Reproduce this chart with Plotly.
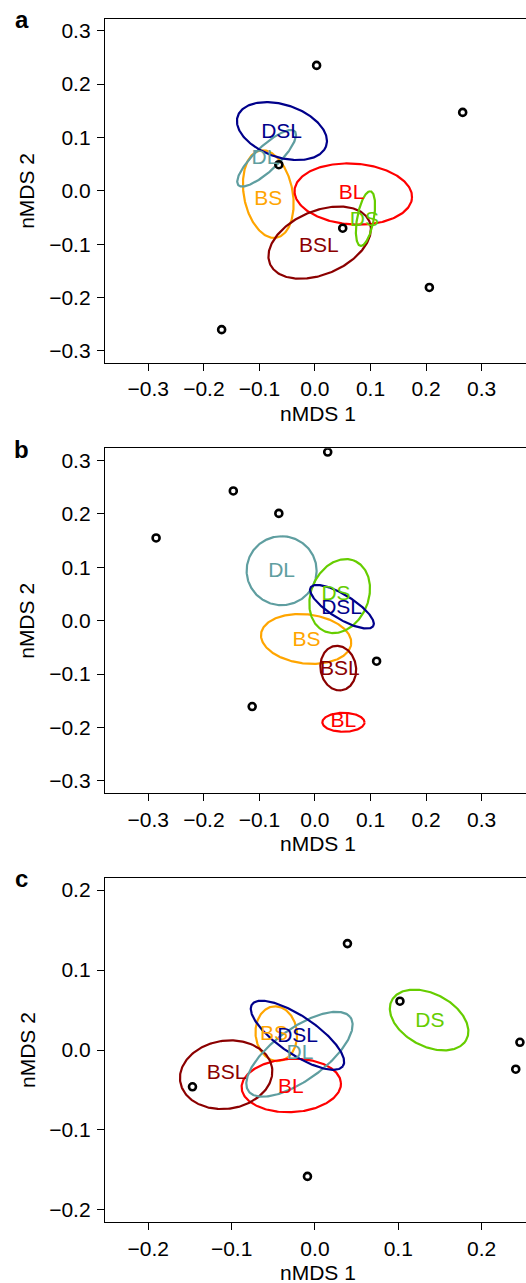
import numpy as np
import plotly.graph_objects as go

W, H = 526, 1283
FONT = "Liberation Sans, Arial, Helvetica, sans-serif"

groups = ["BS", "BL", "BSL", "DL", "DS", "DSL"]
colors = {"BS": "#FFA500", "BL": "#FF0000", "BSL": "#8B0000",
          "DL": "#5F9EA0", "DS": "#66CD00", "DSL": "#00008B"}

# ---- panel a ----
a_pts_x = [0.003, 0.266, -0.065, 0.050, 0.206, -0.168]
a_pts_y = [0.235, 0.147, 0.049, -0.070, -0.181, -0.260]
a_ell_cx = [-0.084, 0.069, 0.0085, -0.087, 0.091, -0.0594]
a_ell_cy = [-0.006, -0.006, -0.097, 0.061, -0.052, 0.112]
a_ell_a = [0.083, 0.106, 0.098, 0.0716, 0.052, 0.0844]
a_ell_b = [0.044, 0.057, 0.059, 0.022, 0.015, 0.049]
a_ell_ang = [-80, -4, 25, 45, 80, -20]
a_lab_x = [-0.084, 0.066, 0.007, -0.090, 0.089, -0.060]
a_lab_y = [-0.017, -0.006, -0.104, 0.061, -0.056, 0.108]

# ---- panel b ----
b_pts_x = [0.023, -0.147, -0.065, -0.286, 0.111, -0.113]
b_pts_y = [0.316, 0.243, 0.201, 0.155, -0.076, -0.161]
b_ell_cx = [-0.0159, 0.0513, 0.042, -0.060, 0.0445, 0.0486]
b_ell_cy = [-0.0343, -0.1905, -0.089, 0.0936, 0.046, 0.026]
b_ell_a = [0.0817, 0.038, 0.042, 0.0646, 0.0714, 0.067]
b_ell_b = [0.046, 0.0178, 0.032, 0.063, 0.052, 0.022]
b_ell_ang = [-7, 0, -82, 90, 70, -33]
b_lab_x = [-0.015, 0.051, 0.045, -0.060, 0.038, 0.048]
b_lab_y = [-0.038, -0.189, -0.0925, 0.091, 0.048, 0.022]

# ---- panel c ----
c_pts_x = [0.039, 0.102, 0.246, 0.241, -0.147, -0.009]
c_pts_y = [0.133, 0.061, 0.0096, -0.024, -0.046, -0.158]
c_ell_cx = [-0.0464, -0.0284, -0.1066, -0.0186, 0.137, -0.021]
c_ell_cy = [0.0204, -0.0444, -0.0309, -0.0053, 0.0375, 0.0184]
c_ell_a = [0.0343, 0.0597, 0.0558, 0.0766, 0.0511, 0.0668]
c_ell_b = [0.0249, 0.0333, 0.0425, 0.0319, 0.0325, 0.0233]
c_ell_ang = [-85, 3, 10, 37.5, -30, -35.5]
c_lab_x = [-0.0492, -0.0288, -0.106, -0.018, 0.138, -0.0208]
c_lab_y = [0.0188, -0.047, -0.030, -0.0042, 0.0354, 0.0166]

x_ticks_ab = [-0.3, -0.2, -0.1, 0.0, 0.1, 0.2, 0.3]
y_ticks_ab = [-0.3, -0.2, -0.1, 0.0, 0.1, 0.2, 0.3]
x_ticks_c = [-0.2, -0.1, 0.0, 0.1, 0.2]
y_ticks_c = [-0.2, -0.1, 0.0, 0.1, 0.2]

panels = [
    dict(name="a", px=a_pts_x, py=a_pts_y, cx=a_ell_cx, cy=a_ell_cy, ea=a_ell_a,
         eb=a_ell_b, ang=a_ell_ang, lx=a_lab_x, ly=a_lab_y,
         xr=[-0.378, 0.38], yr=[-0.3225, 0.3225], xt=x_ticks_ab, yt=y_ticks_ab,
         top=18.7, bot=363.0),
    dict(name="b", px=b_pts_x, py=b_pts_y, cx=b_ell_cx, cy=b_ell_cy, ea=b_ell_a,
         eb=b_ell_b, ang=b_ell_ang, lx=b_lab_x, ly=b_lab_y,
         xr=[-0.378, 0.38], yr=[-0.3236, 0.323], xt=x_ticks_ab, yt=y_ticks_ab,
         top=448.3, bot=793.3),
    dict(name="c", px=c_pts_x, py=c_pts_y, cx=c_ell_cx, cy=c_ell_cy, ea=c_ell_a,
         eb=c_ell_b, ang=c_ell_ang, lx=c_lab_x, ly=c_lab_y,
         xr=[-0.252, 0.2533], yr=[-0.2154, 0.2154], xt=x_ticks_c, yt=y_ticks_c,
         top=877.7, bot=1222.3),
]

fig = go.Figure()
t = np.linspace(0, 2 * np.pi, 241)
left_px = 105
annotations = []
layout_axes = {}
FS = 21

for i, p in enumerate(panels):
    n = "" if i == 0 else str(i + 1)
    xa, ya = "x" + n, "y" + n
    for k, g in enumerate(groups):
        th = np.deg2rad(p["ang"][k])
        ex = p["cx"][k] + p["ea"][k] * np.cos(t) * np.cos(th) - p["eb"][k] * np.sin(t) * np.sin(th)
        ey = p["cy"][k] + p["ea"][k] * np.cos(t) * np.sin(th) + p["eb"][k] * np.sin(t) * np.cos(th)
        fig.add_trace(go.Scatter(x=ex, y=ey, mode="lines", xaxis=xa, yaxis=ya,
                                 line=dict(color=colors[g], width=2.2),
                                 hoverinfo="skip", showlegend=False))
    fig.add_trace(go.Scatter(x=p["px"], y=p["py"], mode="markers", xaxis=xa, yaxis=ya,
                             marker=dict(symbol="circle-open", size=7, color="black",
                                         line=dict(width=2.6, color="black")),
                             showlegend=False))
    for k, g in enumerate(groups):
        fig.add_trace(go.Scatter(x=[p["lx"][k]], y=[p["ly"][k]], mode="text", text=[g],
                                 xaxis=xa, yaxis=ya, textposition="middle center",
                                 textfont=dict(size=FS, color=colors[g], family=FONT),
                                 hoverinfo="skip", showlegend=False))
    dom_y = [1 - p["bot"] / H, 1 - p["top"] / H]
    axcommon = dict(showline=True, linecolor="black", linewidth=1.3, ticks="outside",
                    ticklen=7, tickwidth=1.3, tickcolor="black", showgrid=False,
                    zeroline=False, tickformat=".1f", automargin=False,
                    tickfont=dict(size=FS, color="black", family=FONT))
    layout_axes["xaxis" + n] = dict(axcommon, domain=[left_px / W, 1], range=p["xr"],
                                    tickvals=p["xt"], anchor=ya, mirror=True,
                                    ticklabelstandoff=0)
    layout_axes["yaxis" + n] = dict(axcommon, domain=dom_y, range=p["yr"],
                                    tickvals=p["yt"], anchor=xa, mirror=False,
                                    ticklabelstandoff=2)
    # panel letter
    annotations.append(dict(text="<b>%s</b>" % p["name"], x=21.7 / W,
                            y=1 - (p["top"] + 1) / H, xref="paper", yref="paper",
                            xanchor="center", yanchor="middle", showarrow=False,
                            font=dict(size=24, color="black", family=FONT)))
    # axis titles
    annotations.append(dict(text="nMDS 1", x=318 / W, y=1 - (p["bot"] + 50) / H,
                            xref="paper", yref="paper", xanchor="center", yanchor="middle",
                            showarrow=False, font=dict(size=FS, color="black", family=FONT)))
    annotations.append(dict(text="nMDS 2", x=27 / W, y=1 - ((p["top"] + p["bot"]) / 2) / H,
                            xref="paper", yref="paper", xanchor="center", yanchor="middle",
                            textangle=-90, showarrow=False,
                            font=dict(size=FS, color="black", family=FONT)))

fig.update_layout(width=W, height=H, margin=dict(l=0, r=0, t=0, b=0),
                  paper_bgcolor="white", plot_bgcolor="white",
                  font=dict(family=FONT, color="black"),
                  annotations=annotations, **layout_axes)

fig.write_html("out.html", config={"displayModeBar": False},
               post_script="document.body.style.margin='0';document.body.style.padding='0';")
